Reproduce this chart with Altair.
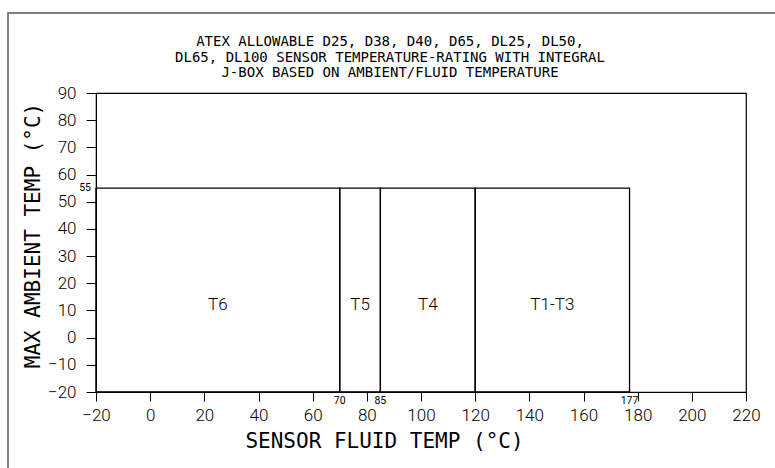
import altair as alt
import pandas as pd

# ---- data ----
zone_names = ["T6", "T5", "T4", "T1-T3"]
zone_start = [-20, 70, 85, 120]
zone_end = [70, 85, 120, 177]
zone_label_x = [25, 77.5, 102.5, 148.5]
zone_label_y = [12, 12, 12, 12]
ambient_min = -20
ambient_max = 55
fluid_marks = [70, 85, 177]
x_ticks = list(range(-20, 221, 20))
y_ticks = list(range(-20, 91, 10))
title_lines = [
    "ATEX ALLOWABLE D25, D38, D40, D65, DL25, DL50,",
    "DL65, DL100 SENSOR TEMPERATURE-RATING WITH INTEGRAL",
    "J-BOX BASED ON AMBIENT/FLUID TEMPERATURE",
]

LBL = "Roboto"
MONO = "DejaVu Sans Mono"

zones = pd.DataFrame({
    "zone": zone_names,
    "start": zone_start,
    "end": zone_end,
    "lo": [ambient_min] * 4,
    "hi": [ambient_max] * 4,
    "lx": zone_label_x,
    "ly": zone_label_y,
})
fluid = pd.DataFrame({"x": fluid_marks, "y": [ambient_min] * len(fluid_marks),
                      "t": [str(v) for v in fluid_marks]})
amb = pd.DataFrame({"x": [-20], "y": [ambient_max], "t": [str(ambient_max)]})

xs = alt.Scale(domain=[-20, 220], nice=False)
ys = alt.Scale(domain=[-20, 90], nice=False)

x_axis = alt.Axis(values=x_ticks, grid=False, tickSize=9, tickColor="black",
                  domainColor="black", labelFont=LBL, labelFontSize=17, labelFontWeight=300,
                  labelColor="black", labelPadding=6, labelFlush=False, labelOverlap=False,
                  title="SENSOR FLUID TEMP (°C)",
                  titleFont=MONO, titleFontSize=21, titleFontWeight="normal",
                  titleColor="black", titleX=288, titleY=49, titleBaseline="middle",
                  titleAlign="center")
y_axis = alt.Axis(values=y_ticks, grid=False, tickSize=10, tickColor="black",
                  domainColor="black", labelFont=LBL, labelFontSize=17, labelFontWeight=300,
                  labelColor="black", labelPadding=10, labelFlush=False, labelOverlap=False,
                  title="MAX AMBIENT TEMP (°C)",
                  titleFont=MONO, titleFontSize=21, titleFontWeight="normal",
                  titleColor="black", titleX=-63, titleY=142, titleAngle=-90,
                  titleBaseline="middle", titleAlign="center")


def X(field):
    return alt.X(field, type="quantitative", scale=xs, axis=x_axis)


def Y(field):
    return alt.Y(field, type="quantitative", scale=ys, axis=y_axis)


rects = alt.Chart(zones).mark_rect(fillOpacity=0, stroke="black", strokeWidth=1.3).encode(
    x=X("start"), x2="end", y=Y("lo"), y2="hi")

zone_text = alt.Chart(zones).mark_text(font=LBL, fontSize=17, fontWeight=300,
                                        color="black").encode(
    x=X("lx"), y=Y("ly"), text="zone:N")

fluid_text = alt.Chart(fluid).mark_text(font=LBL, fontSize=10.5, color="black",
                                         baseline="top", dy=4).encode(
    x=X("x"), y=Y("y"), text="t:N")

amb_text = alt.Chart(amb).mark_text(font=LBL, fontSize=10.5, color="black",
                                     align="right", baseline="middle", dx=-5).encode(
    x=X("x"), y=Y("y"), text="t:N")

one = pd.DataFrame({"a": [0]})
frame = alt.Chart(one).mark_rect(
    fillOpacity=0, stroke="#808080", strokeWidth=2).encode(
    x=alt.value(-88), x2=alt.value(720), y=alt.value(-80), y2=alt.value(420))

title_layers = []
for i, line in enumerate(title_lines):
    title_layers.append(
        alt.Chart(one).mark_text(font=MONO, fontSize=14, color="black",
                                 baseline="middle", align="center").encode(
            x=alt.value(294), y=alt.value(-51 + 15.5 * i), text=alt.value(line)))

chart = alt.layer(rects, zone_text, fluid_text, amb_text, frame, *title_layers).properties(
    width=650, height=299,
    autosize=alt.AutoSizeParams(type="none"),
    padding={"left": 96, "top": 93, "right": 29, "bottom": 76},
).configure(background="white").configure_view(stroke="black", strokeWidth=1.2)

chart.save("out.html", embed_options={"renderer": "svg", "actions": False})
